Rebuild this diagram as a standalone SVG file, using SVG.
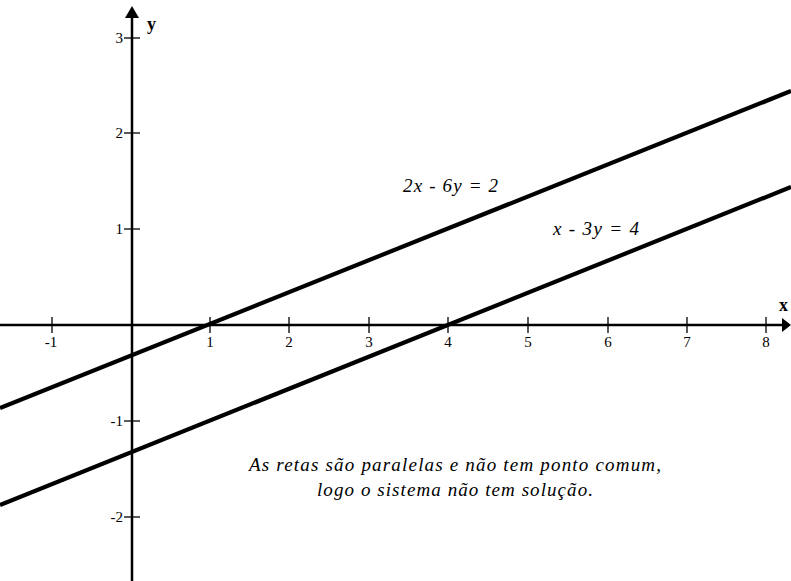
<svg xmlns="http://www.w3.org/2000/svg" width="791" height="581" viewBox="0 0 791 581">
<style>
.axis{stroke:#000;stroke-width:2.5;fill:none}
.tick{stroke:#000;stroke-width:1.3}
.line{stroke:#000;stroke-width:4.2;fill:none}
.num{font-family:"Liberation Serif",serif;font-size:15px;fill:#000}
.lab{font-family:"Liberation Serif",serif;font-size:18px;font-weight:bold;fill:#000}
.eq{font-family:"Liberation Serif",serif;font-size:19px;font-style:italic;fill:#000}
.note{font-family:"Liberation Serif",serif;font-size:19px;font-style:italic;fill:#000}
</style>
<rect width="791" height="581" fill="#fff"/>
<g id="axes">
<line class="axis" x1="0" y1="325" x2="784" y2="325"/>
<polygon points="782,318 791,325 782,332" fill="#000"/>
<line class="axis" x1="132" y1="581" x2="132" y2="16"/>
<polygon points="125,18 132,6 139,18" fill="#000"/>
<text class="lab" x="779" y="311">x</text>
<text class="lab" x="147" y="30">y</text>
</g>
<g id="xticks">
<line class="tick" x1="52" y1="317" x2="52" y2="333"/>
<line class="tick" x1="210" y1="317" x2="210" y2="333"/>
<line class="tick" x1="289" y1="317" x2="289" y2="333"/>
<line class="tick" x1="369" y1="317" x2="369" y2="333"/>
<line class="tick" x1="448" y1="317" x2="448" y2="333"/>
<line class="tick" x1="528" y1="317" x2="528" y2="333"/>
<line class="tick" x1="608" y1="317" x2="608" y2="333"/>
<line class="tick" x1="687" y1="317" x2="687" y2="333"/>
<line class="tick" x1="766" y1="317" x2="766" y2="333"/>
<g class="num" text-anchor="middle">
<text x="51" y="347">-1</text>
<text x="210" y="347">1</text>
<text x="289" y="347">2</text>
<text x="369" y="347">3</text>
<text x="448" y="347">4</text>
<text x="528" y="347">5</text>
<text x="608" y="347">6</text>
<text x="687" y="347">7</text>
<text x="766" y="347">8</text>
</g>
</g>
<g id="yticks">
<line class="tick" x1="124" y1="38" x2="140" y2="38"/>
<line class="tick" x1="124" y1="133" x2="140" y2="133"/>
<line class="tick" x1="124" y1="229" x2="140" y2="229"/>
<line class="tick" x1="124" y1="421" x2="140" y2="421"/>
<line class="tick" x1="124" y1="517" x2="140" y2="517"/>
<g class="num" text-anchor="end">
<text x="123" y="43">3</text>
<text x="123" y="138">2</text>
<text x="123" y="234">1</text>
<text x="123" y="426">-1</text>
<text x="123" y="522">-2</text>
</g>
</g>
<g id="connectors">
<line class="line" x1="0" y1="408" x2="791" y2="91"/>
<line class="line" x1="0" y1="505" x2="791" y2="187"/>
</g>
<g id="labels">
<text class="eq" x="403" y="192" textLength="95" lengthAdjust="spacing">2x - 6y = 2</text>
<text class="eq" x="553" y="235" textLength="86" lengthAdjust="spacing">x - 3y = 4</text>
</g>
<g id="note">
<text class="note" x="249" y="471" textLength="412" lengthAdjust="spacing">As retas são paralelas e não tem ponto comum,</text>
<text class="note" x="317" y="496" textLength="276" lengthAdjust="spacing">logo o sistema não tem solução.</text>
</g>
</svg>
